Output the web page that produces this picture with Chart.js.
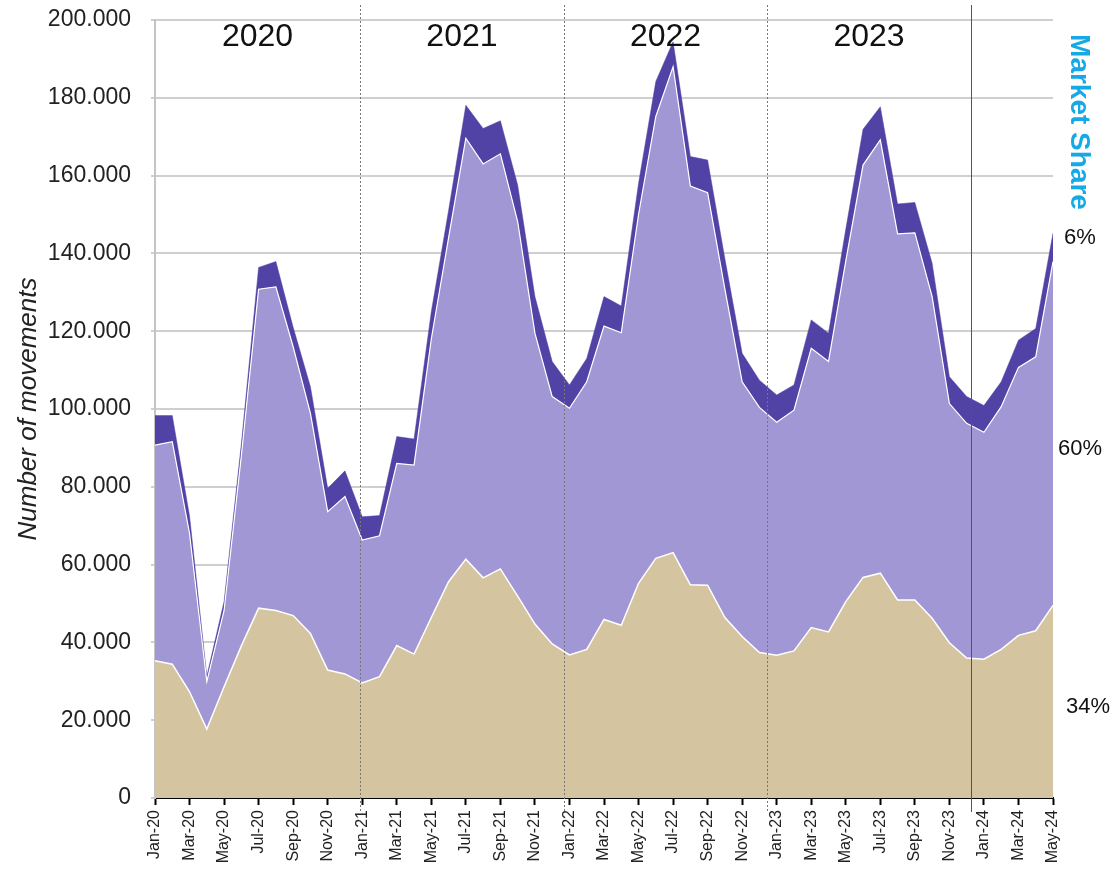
<!DOCTYPE html>
<html>
<head>
<meta charset="utf-8">
<script src="https://cdn.jsdelivr.net/npm/chart.js@4/dist/chart.umd.min.js"></script>
<style>
  html, body { margin: 0; padding: 0; background: #fff; }
  canvas { display: block; }
</style>
</head>
<body>
<canvas id="movements" width="1112" height="869"></canvas>
<script>
const months = [
  'Jan-20','Feb-20','Mar-20','Apr-20','May-20','Jun-20','Jul-20','Aug-20','Sep-20','Oct-20','Nov-20','Dec-20',
  'Jan-21','Feb-21','Mar-21','Apr-21','May-21','Jun-21','Jul-21','Aug-21','Sep-21','Oct-21','Nov-21','Dec-21',
  'Jan-22','Feb-22','Mar-22','Apr-22','May-22','Jun-22','Jul-22','Aug-22','Sep-22','Oct-22','Nov-22','Dec-22',
  'Jan-23','Feb-23','Mar-23','Apr-23','May-23','Jun-23','Jul-23','Aug-23','Sep-23','Oct-23','Nov-23','Dec-23',
  'Jan-24','Feb-24','Mar-24','Apr-24','May-24'
];

// bottom band (34%)
const tanValues = [
  35300, 34400, 27300, 17700, 28600, 39100, 48800, 48200, 46900, 42300, 32900, 31900,
  29600, 31200, 39200, 37000, 46400, 55600, 61400, 56600, 58900, 51900, 44700, 39600,
  36800, 38200, 45900, 44400, 55200, 61600, 63100, 54800, 54700, 46400, 41500, 37400,
  36700, 37800, 43800, 42700, 50500, 56700, 57800, 50900, 50900, 46200, 39900, 36000,
  35700, 38200, 41800, 43000, 49500
];

// middle band (60%)
const lilacValues = [
  55400, 57200, 40700, 12200, 19600, 48900, 82000, 83200, 69100, 56600, 40700, 45600,
  36700, 36200, 46800, 48600, 71600, 88400, 108200, 106400, 106700, 96300, 74800, 63600,
  63400, 68800, 75400, 75200, 94800, 113600, 124900, 102500, 100900, 84400, 65500, 63000,
  59900, 61900, 71800, 69500, 87500, 106000, 111400, 94100, 94400, 82700, 61500, 60300,
  58300, 62400, 68900, 70400, 88400
];

// top band (6%)
const violetValues = [
  7600, 6700, 4500, 1400, 2300, 3000, 5600, 6500, 5000, 6800, 6000, 6600,
  6000, 5200, 6900, 6700, 7000, 7000, 8500, 9100, 8500, 9400, 9400, 9000,
  6000, 6000, 7600, 6900, 8000, 9000, 6400, 7600, 8400, 7800, 7300, 7000,
  7000, 6500, 7300, 7300, 8200, 9200, 8500, 7700, 7800, 8600, 6900, 6900,
  6900, 6400, 7000, 7300, 7300
];

const yearLabels = ['2020', '2021', '2022', '2023'];
const shareLabels = ['6%', '60%', '34%'];
const yTicks = [0, 20000, 40000, 60000, 80000, 100000, 120000, 140000, 160000, 180000, 200000];

function dotted(v) {
  return String(v).replace(/\B(?=(\d{3})+(?!\d))/g, '.');
}

const overlay = {
  id: 'overlay',
  afterDatasetsDraw(chart, args, opts) {
    const { ctx, chartArea, scales } = chart;
    const x = scales.x;
    ctx.save();

    // year separators
    opts.dotted.forEach(function (pos) {
      const px = Math.round(x.getPixelForValue(pos)) + 0.5;
      ctx.strokeStyle = '#777';
      ctx.lineWidth = 1;
      ctx.setLineDash([2, 2]);
      ctx.beginPath();
      ctx.moveTo(px, 5);
      ctx.lineTo(px, chartArea.bottom + 14);
      ctx.stroke();
    });
    ctx.setLineDash([]);
    const sx = Math.round(x.getPixelForValue(opts.solid)) + 0.5;
    ctx.strokeStyle = '#555';
    ctx.beginPath();
    ctx.moveTo(sx, 5);
    ctx.lineTo(sx, chartArea.bottom + 14);
    ctx.stroke();

    // year names
    const bounds = [0].concat(opts.dotted, [opts.solid]);
    ctx.fillStyle = '#111';
    ctx.font = '32px "Liberation Sans", Arial, sans-serif';
    ctx.textAlign = 'center';
    ctx.textBaseline = 'middle';
    yearLabels.forEach(function (yr, i) {
      const cx = (x.getPixelForValue(bounds[i]) + x.getPixelForValue(bounds[i + 1])) / 2;
      ctx.fillText(yr, cx, 37);
    });

    // market share column
    ctx.save();
    ctx.translate(1079, 122);
    ctx.rotate(Math.PI / 2);
    ctx.fillStyle = '#16a9e6';
    ctx.font = 'bold 28px "Liberation Sans", Arial, sans-serif';
    ctx.fillText('Market Share', 0, 0);
    ctx.restore();

    ctx.fillStyle = '#111';
    ctx.font = '22px "Liberation Sans", Arial, sans-serif';
    ctx.textAlign = 'left';
    ctx.fillText(shareLabels[0], 1064, 238);
    ctx.fillText(shareLabels[1], 1058, 449);
    ctx.fillText(shareLabels[2], 1066, 707);

    ctx.restore();
  }
};

new Chart(document.getElementById('movements'), {
  type: 'line',
  data: {
    labels: months,
    datasets: [
      {
        label: 'Share 34%',
        data: tanValues,
        backgroundColor: '#d4c4a0',
        borderColor: '#ffffff',
        borderWidth: 1.5,
        fill: 'origin'
      },
      {
        label: 'Share 60%',
        data: lilacValues,
        backgroundColor: '#a097d4',
        borderColor: '#ffffff',
        borderWidth: 1.2,
        fill: '-1'
      },
      {
        label: 'Share 6%',
        data: violetValues,
        backgroundColor: '#5142a6',
        borderColor: '#5142a6',
        borderWidth: 0.5,
        fill: '-1'
      }
    ]
  },
  options: {
    responsive: false,
    animation: false,
    devicePixelRatio: 1,
    layout: { padding: { top: 20, right: 59, left: 0, bottom: 0 } },
    elements: {
      point: { radius: 0, hoverRadius: 0 },
      line: { tension: 0 }
    },
    plugins: {
      legend: { display: false },
      tooltip: { enabled: false },
      overlay: { dotted: [11.87, 23.68, 35.44], solid: 47.25 }
    },
    scales: {
      x: {
        grid: {
          drawOnChartArea: false,
          color: '#000',
          tickLength: 7,
          tickWidth: 2
        },
        border: { color: '#000', width: 2 },
        ticks: {
          autoSkip: false,
          minRotation: 90,
          maxRotation: 90,
          padding: 5,
          color: '#222',
          font: { family: '"Liberation Sans", Arial, sans-serif', size: 16 },
          callback: function (val, i) {
            return i % 2 === 0 ? months[i] : null;
          }
        },
        afterFit: function (scale) { scale.height = 71; }
      },
      y: {
        stacked: true,
        min: 0,
        max: 200000,
        afterBuildTicks: function (scale) {
          scale.ticks = yTicks.map(function (v) { return { value: v }; });
        },
        grid: {
          color: '#cfcfcf',
          lineWidth: 2,
          tickLength: 4
        },
        border: { color: '#c4c4c4', width: 2 },
        ticks: {
          padding: 20,
          color: '#222',
          font: { family: '"Liberation Sans", Arial, sans-serif', size: 23 },
          callback: function (v) { return dotted(v); }
        },
        title: {
          display: true,
          text: 'Number of movements',
          color: '#222',
          padding: { top: 13, bottom: 0 },
          font: { family: '"Liberation Sans", Arial, sans-serif', size: 26, style: 'italic' }
        },
        afterFit: function (scale) {
          scale.width = 155;
          scale.paddingTop = 12;
          scale.paddingBottom = 12;
        }
      }
    }
  },
  plugins: [overlay]
});
</script>
</body>
</html>
